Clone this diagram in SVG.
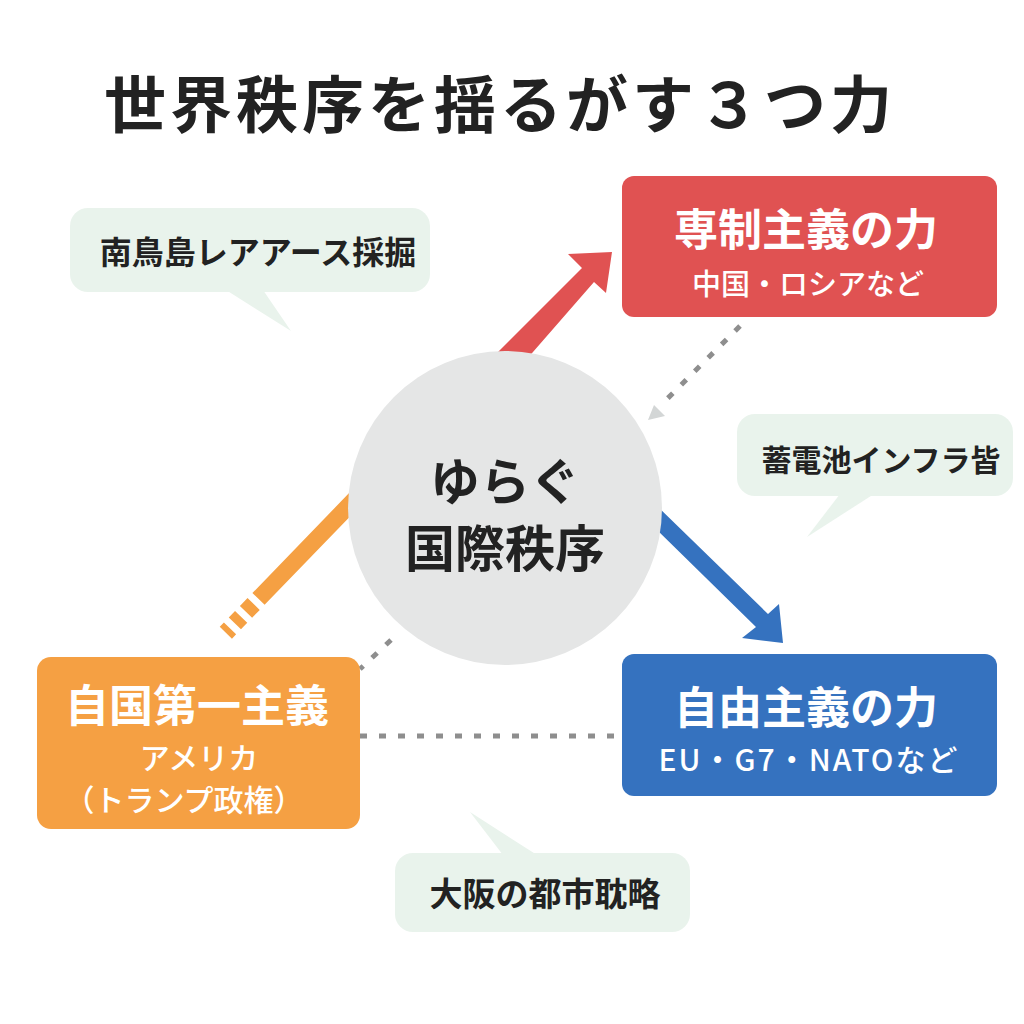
<svg xmlns="http://www.w3.org/2000/svg" width="1024" height="1024" viewBox="0 0 1024 1024">
<style>
text{font-family:"Noto Sans CJK JP","Noto Sans",sans-serif;text-anchor:middle;dominant-baseline:central}
.title{font-size:62px;font-weight:700;fill:#222;letter-spacing:4px}
.big{font-size:44px;font-weight:700;fill:#fff}
.sub{font-size:29px;font-weight:500;fill:#fff}
.bub{fill:#e9f3ec}
.btxt{font-size:31px;font-weight:700;fill:#222}
.ctxt{font-size:50px;font-weight:700;fill:#222}
.dot{stroke:#8e8e8e;stroke-width:5;stroke-dasharray:7 12;fill:none}
</style>
<rect width="1024" height="1024" fill="#fff"/>
<text class="title" x="500" y="101">世界秩序を揺るがす３つ力</text>

<g id="connectors">
  <polygon points="490,360 582,268 568,254 612,252 606,293 594,282 526,360" fill="#e05252"/>
  <polygon points="655,504 768,614 779,604 783,643 742,638 756,627 655,528" fill="#3572bf"/>
  <line x1="360" y1="494" x2="214" y2="645" stroke="#f5a043" stroke-width="17" stroke-dasharray="146 7 11 7 9 7 6 50"/>
  <line class="dot" x1="740" y1="326" x2="662" y2="404"/>
  <polygon points="648,420 665,416 654,405" fill="#d3d6d6"/>
  <line class="dot" x1="391" y1="640" x2="360" y2="669"/>
  <line class="dot" x1="360" y1="736" x2="622" y2="736"/>
</g>

<g id="center">
  <circle cx="505" cy="508" r="157" fill="#e5e6e6"/>
  <text class="ctxt" x="505" y="478">ゆらぐ</text>
  <text class="ctxt" x="505" y="545">国際秩序</text>
</g>

<g id="authoritarian">
  <rect x="622" y="176" width="375" height="141" rx="12" fill="#e05252"/>
  <text class="big" x="806" y="227">専制主義の力</text>
  <text class="sub" x="808" y="282">中国・ロシアなど</text>
</g>

<g id="liberal">
  <rect x="622" y="654" width="375" height="142" rx="12" fill="#3572bf"/>
  <text class="big" x="806" y="705">自由主義の力</text>
  <text class="sub" x="809" y="758" style="font-size:30px;letter-spacing:2px">EU・G7・NATOなど</text>
</g>

<g id="nationalist">
  <rect x="37" y="657" width="323" height="172" rx="14" fill="#f5a043"/>
  <text class="big" x="197" y="703">自国第一主義</text>
  <text class="sub" x="199" y="756" style="font-size:30px">アメリカ</text>
  <text class="sub" x="184" y="798" style="font-size:30px">（トランプ政権）</text>
</g>

<g id="bubble-minamitorishima">
  <rect class="bub" x="70" y="208" width="360" height="84" rx="18"/>
  <polygon class="bub" points="226,290 291,331 263,290"/>
  <text class="btxt" x="258" y="250" style="font-size:32px">南鳥島レアアース採掘</text>
</g>

<g id="bubble-battery">
  <rect class="bub" x="737" y="414" width="276" height="82" rx="18"/>
  <polygon class="bub" points="840,494 807,537 874,494"/>
  <text class="btxt" x="881" y="458" style="font-size:30px">蓄電池インフラ皆</text>
</g>

<g id="bubble-osaka">
  <rect class="bub" x="395" y="853" width="295" height="79" rx="18"/>
  <polygon class="bub" points="470,812 503,855 537,855"/>
  <text class="btxt" x="545" y="892" style="font-size:33px">大阪の都市耽略</text>
</g>
</svg>
